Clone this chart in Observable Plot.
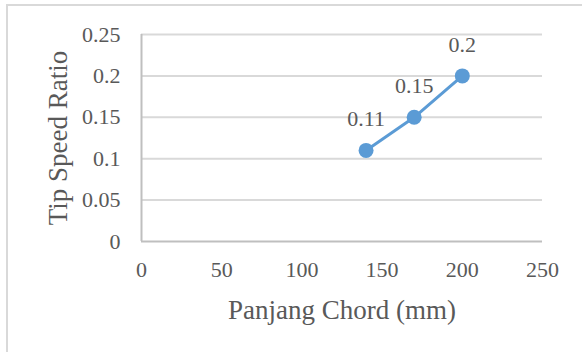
<!DOCTYPE html>
<html>
<head>
<meta charset="utf-8">
<script src="https://cdn.jsdelivr.net/npm/d3@7"></script>
<script src="https://cdn.jsdelivr.net/npm/@observablehq/plot@0.6"></script>
<style>
  html, body { margin: 0; padding: 0; background: #fff; overflow: hidden; }
  #wrap { position: relative; width: 582px; height: 352px; }
  #border { position: absolute; left: 6px; top: 4px; width: 620px; height: 400px; border: 2px solid #d9d9d9; box-sizing: border-box; pointer-events: none; }
  #chart { position: absolute; left: 0; top: 0; }
  #chart svg, #chart svg text, #chart svg g { font-family: "Liberation Serif", "Times New Roman", serif !important; font-variant: normal !important; }
</style>
</head>
<body>
<div id="wrap"><div id="border"></div><div id="chart"></div></div>
<script>
// Data
const chordLength = [140, 170, 200];           // Panjang Chord (mm)
const tipSpeedRatio = [0.11, 0.15, 0.2];       // Tip Speed Ratio
const pointLabels = ["0.11", "0.15", "0.2"];
const xTicks = [0, 50, 100, 150, 200, 250];
const yTicks = [0, 0.05, 0.1, 0.15, 0.2, 0.25];
const xTitle = "Panjang Chord (mm)";
const yTitle = "Tip Speed Ratio";

const data = chordLength.map((x, i) => ({x, y: tipSpeedRatio[i], label: pointLabels[i]}));

const blue = "#5b9bd5";
const textColor = "#595959";
const font = "Liberation Serif, Times New Roman, serif";

const chart = Plot.plot({
  width: 582,
  height: 352,
  marginLeft: 141,
  marginRight: 40,
  marginTop: 34,
  marginBottom: 111,
  style: {fontFamily: font, fontSize: "22px", color: textColor, background: "transparent", overflow: "visible"},
  x: {domain: [0, 250], ticks: xTicks},
  y: {domain: [0, 0.25], ticks: yTicks},
  marks: [
    Plot.gridY(yTicks.filter(d => d > 0), {stroke: "#d9d9d9", strokeOpacity: 1, strokeWidth: 2}),
    Plot.ruleY([0], {stroke: "#bfbfbf", strokeWidth: 2}),
    Plot.ruleX([0], {stroke: "#bfbfbf", strokeWidth: 2}),
    Plot.axisY(yTicks, {
      tickSize: 0, tickPadding: 21, fontSize: 22, fill: textColor,
      tickFormat: d => String(d),
      label: yTitle, labelAnchor: "center", labelOffset: 94, labelArrow: "none"
    }),
    Plot.axisX(xTicks, {
      tickSize: 0, tickPadding: 20, fontSize: 22, fill: textColor,
      tickFormat: d => String(d),
      label: xTitle, labelAnchor: "center", labelOffset: 77, labelArrow: "none"
    }),
    Plot.line(data, {x: "x", y: "y", stroke: blue, strokeWidth: 3}),
    Plot.dot(data, {x: "x", y: "y", r: 7.5, fill: blue, stroke: "none"}),
    Plot.text(data, {x: "x", y: "y", text: "label", dy: -31, lineAnchor: "middle", textAnchor: "middle", fill: textColor, fontSize: 22})
  ]
});
document.getElementById("chart").appendChild(chart);
// enlarge axis title font
chart.querySelectorAll("g[aria-label='x-axis label'] text, g[aria-label='y-axis label'] text").forEach(t => t.setAttribute("font-size", "27"));
</script>
</body>
</html>
